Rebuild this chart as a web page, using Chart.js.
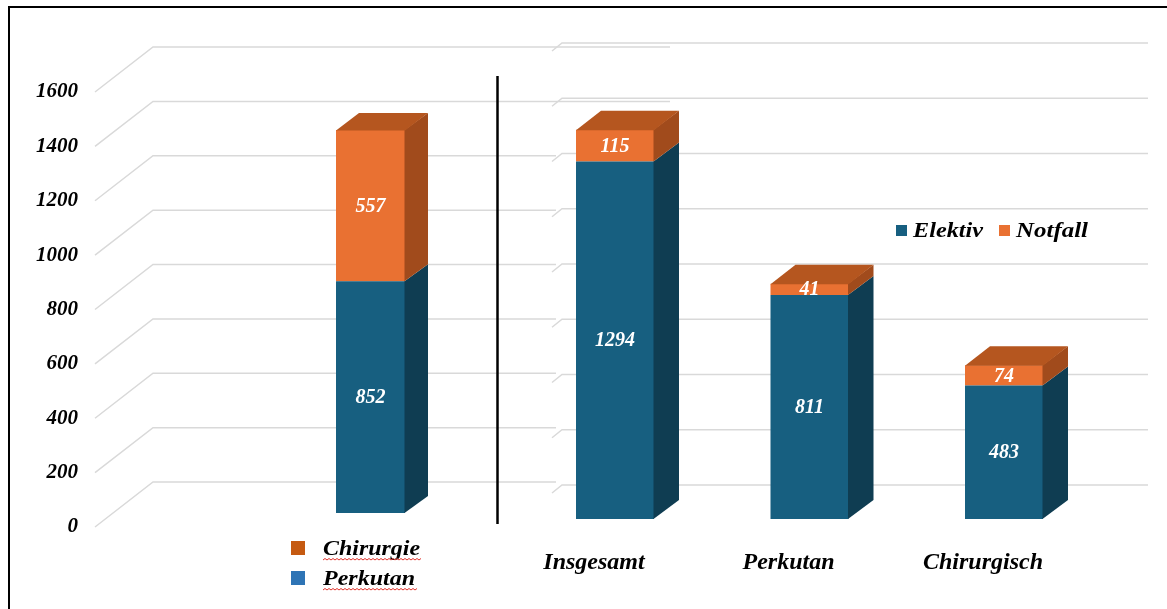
<!DOCTYPE html>
<html><head><meta charset="utf-8">
<script src="https://cdn.jsdelivr.net/npm/chart.js@4/dist/chart.umd.min.js"></script>
<style>
html,body{margin:0;padding:0;background:#fff;}
#wrap{position:relative;width:1167px;height:609px;overflow:hidden;background:#fff;}
canvas{position:absolute;left:0;top:0;}
</style></head><body>
<div id="wrap"><canvas id="c1" width="1167" height="609"></canvas><canvas id="c2" width="1167" height="609"></canvas></div>
<script>
// ---- data ----
const leftCategories = [''];
const leftPerkutan = [852];
const leftChirurgie = [557];
const rightCategories = ['Insgesamt', 'Perkutan', 'Chirurgisch'];
const elektiv = [1294, 811, 483];
const notfall = [115, 41, 74];
const yMin = 0, yMax = 1600, yStep = 200;

// ---- styles ----
const FONT = '"Liberation Serif", "Times New Roman", serif';
const BLUE = '#175f80', BLUE_SIDE = '#0f3d52', BLUE_TOP = '#1a6d92';
const ORANGE = '#e97132', ORANGE_SIDE = '#a14b1c', ORANGE_TOP = '#b5561f';
const GRID = '#d9d9d9';

function tickValues() {
  const v = [];
  for (let t = yMin; t <= yMax; t += yStep) v.push(t);
  return v;
}

function stretchText(ctx, text, x, y, targetW) {
  const w = ctx.measureText(text).width;
  const k = targetW ? targetW / w : 1;
  ctx.save();
  ctx.translate(x, y);
  ctx.scale(k, 1);
  ctx.fillText(text, 0, 0);
  ctx.restore();
  return w * k;
}

function make3D(o) {
  return {
    id: 'threeD',
    beforeDatasetsDraw(chart) {
      const ctx = chart.ctx, y = chart.scales.y;
      ctx.save();
      ctx.strokeStyle = GRID; ctx.lineWidth = 1.5;
      tickValues().forEach(v => {
        const p = y.getPixelForValue(v);
        const back = p - o.backOff;
        ctx.beginPath();
        ctx.moveTo(o.diagX0, p + o.frontOff);
        ctx.lineTo(o.diagX1, back);
        ctx.lineTo(o.gridEnd(v), back);
        ctx.stroke();
      });
      ctx.restore();
    },
    afterDatasetsDraw(chart) {
      const ctx = chart.ctx, dx = o.dx, dy = o.dy;
      const n = chart.data.labels.length;
      ctx.save();
      for (let i = 0; i < n; i++) {
        let top = null, topDs = null;
        chart.data.datasets.forEach((ds, di) => {
          const el = chart.getDatasetMeta(di).data[i];
          const { x, y, base, width } = el.getProps(['x', 'y', 'base', 'width'], true);
          const r = x + width / 2;
          ctx.fillStyle = ds.sideColor;
          ctx.beginPath();
          ctx.moveTo(r - 0.5, y); ctx.lineTo(r + dx, y - dy); ctx.lineTo(r + dx, base - dy); ctx.lineTo(r - 0.5, base);
          ctx.closePath(); ctx.fill();
          top = { x, y, base, width }; topDs = ds;
        });
        const l = top.x - top.width / 2, r = top.x + top.width / 2;
        ctx.fillStyle = topDs.topColor;
        ctx.beginPath();
        ctx.moveTo(l, top.y + 0.5); ctx.lineTo(l + dx, top.y - dy); ctx.lineTo(r + dx, top.y - dy); ctx.lineTo(r, top.y + 0.5);
        ctx.closePath(); ctx.fill();
      }
      // value labels
      ctx.fillStyle = '#fff';
      ctx.font = 'italic bold 20px ' + FONT;
      ctx.textAlign = 'center'; ctx.textBaseline = 'middle';
      chart.data.datasets.forEach((ds, di) => {
        chart.getDatasetMeta(di).data.forEach((el, i) => {
          const { x, y, base } = el.getProps(['x', 'y', 'base'], true);
          ctx.fillText(String(ds.data[i]), x, (y + base) / 2 + 1);
        });
      });
      ctx.restore();
      if (o.after) o.after(chart);
    }
  };
}

function wavy(ctx, x0, x1, y) {
  ctx.save();
  ctx.strokeStyle = '#e0302a'; ctx.lineWidth = 1;
  ctx.beginPath();
  let up = true;
  ctx.moveTo(x0, y);
  for (let x = x0 + 2; x <= x1; x += 2) { ctx.lineTo(x, up ? y - 1.5 : y); up = !up; }
  ctx.stroke();
  ctx.restore();
}

// ---- left chart ----
new Chart(document.getElementById('c1'), {
  type: 'bar',
  data: {
    labels: leftCategories,
    datasets: [
      { label: 'Perkutan', data: leftPerkutan, backgroundColor: BLUE, sideColor: BLUE_SIDE, topColor: BLUE_TOP, legendColor: '#2e74b5' },
      { label: 'Chirurgie', data: leftChirurgie, backgroundColor: ORANGE, sideColor: ORANGE_SIDE, topColor: ORANGE_TOP, legendColor: '#c55a11' }
    ]
  },
  options: {
    responsive: false, animation: false, events: [],
    layout: { padding: { left: 0, right: 1167 - 498, top: 78, bottom: 96 } },
    plugins: { legend: { display: false }, tooltip: { enabled: false } },
    datasets: { bar: { categoryPercentage: 1, barPercentage: 69 / 255 } },
    scales: {
      x: { display: false, stacked: true },
      y: {
        stacked: true, min: yMin, max: yMax,
        afterFit: s => { s.width = 243; s.paddingTop = 0; s.paddingBottom = 0; },
        grid: { display: false, drawTicks: false }, border: { display: false },
        ticks: { stepSize: yStep, padding: 165, labelOffset: 14, color: '#000',
          callback: v => String(v),
          font: { family: FONT, size: 21, weight: 'bold', style: 'italic' } }
      }
    }
  },
  plugins: [make3D({
    dx: 23, dy: 17, backOff: 31, frontOff: 14, diagX0: 95, diagX1: 153,
    gridEnd: v => (v >= 1400 ? 670 : 556),
    after(chart) {
      const ctx = chart.ctx;
      ctx.save();
      // frame
      ctx.strokeStyle = '#000'; ctx.lineWidth = 2;
      ctx.beginPath(); ctx.moveTo(9, 700); ctx.lineTo(9, 7); ctx.lineTo(1200, 7); ctx.stroke();
      // divider
      ctx.lineWidth = 2.5;
      ctx.beginPath(); ctx.moveTo(497.5, 76); ctx.lineTo(497.5, 524); ctx.stroke();
      // legend (top series first)
      const dsets = chart.data.datasets.slice().reverse();
      const widths = [97, 92];
      ctx.font = 'italic bold 22px ' + FONT;
      ctx.textAlign = 'left'; ctx.textBaseline = 'middle';
      dsets.forEach((ds, k) => {
        const cy = 548 + k * 30;
        ctx.fillStyle = ds.legendColor;
        ctx.fillRect(291, cy - 7, 14, 14);
        ctx.fillStyle = '#000';
        const w = stretchText(ctx, ds.label, 323, cy + 1, widths[k]);
        wavy(ctx, 323, 323 + w + 2, cy + 12);
      });
      ctx.restore();
    }
  })]
});

// ---- right chart ----
new Chart(document.getElementById('c2'), {
  type: 'bar',
  data: {
    labels: rightCategories,
    datasets: [
      { label: 'Elektiv', data: elektiv, backgroundColor: BLUE, sideColor: BLUE_SIDE, topColor: BLUE_TOP },
      { label: 'Notfall', data: notfall, backgroundColor: ORANGE, sideColor: ORANGE_SIDE, topColor: ORANGE_TOP }
    ]
  },
  options: {
    responsive: false, animation: false, events: [],
    layout: { padding: { left: 517.75, right: 65.75, top: 77, bottom: 0 } },
    plugins: { legend: { display: false }, tooltip: { enabled: false } },
    datasets: { bar: { categoryPercentage: 1, barPercentage: 78 / 194.5 } },
    scales: {
      x: {
        stacked: true,
        afterFit: s => { s.height = 90; },
        grid: { display: false, drawTicks: false }, border: { display: false },
        ticks: { padding: 29, labelOffset: -21, color: '#000',
          font: { family: FONT, size: 24, weight: 'bold', style: 'italic' } }
      },
      y: { display: false, stacked: true, min: yMin, max: yMax, ticks: { stepSize: yStep } }
    }
  },
  plugins: [make3D({
    dx: 25, dy: 19, backOff: 34, frontOff: -26, diagX0: 552, diagX1: 562,
    gridEnd: () => 1148,
    after(chart) {
      const ctx = chart.ctx;
      ctx.save();
      ctx.font = 'italic bold 22px ' + FONT;
      ctx.textAlign = 'left'; ctx.textBaseline = 'middle';
      const xs = [896, 999];
      const widths = [70, 72];
      chart.data.datasets.forEach((ds, k) => {
        ctx.fillStyle = ds.backgroundColor;
        ctx.fillRect(xs[k], 225, 11, 11);
        ctx.fillStyle = '#000';
        stretchText(ctx, ds.label, xs[k] + 17, 231, widths[k]);
      });
      ctx.restore();
    }
  })]
});
</script>
</body></html>
